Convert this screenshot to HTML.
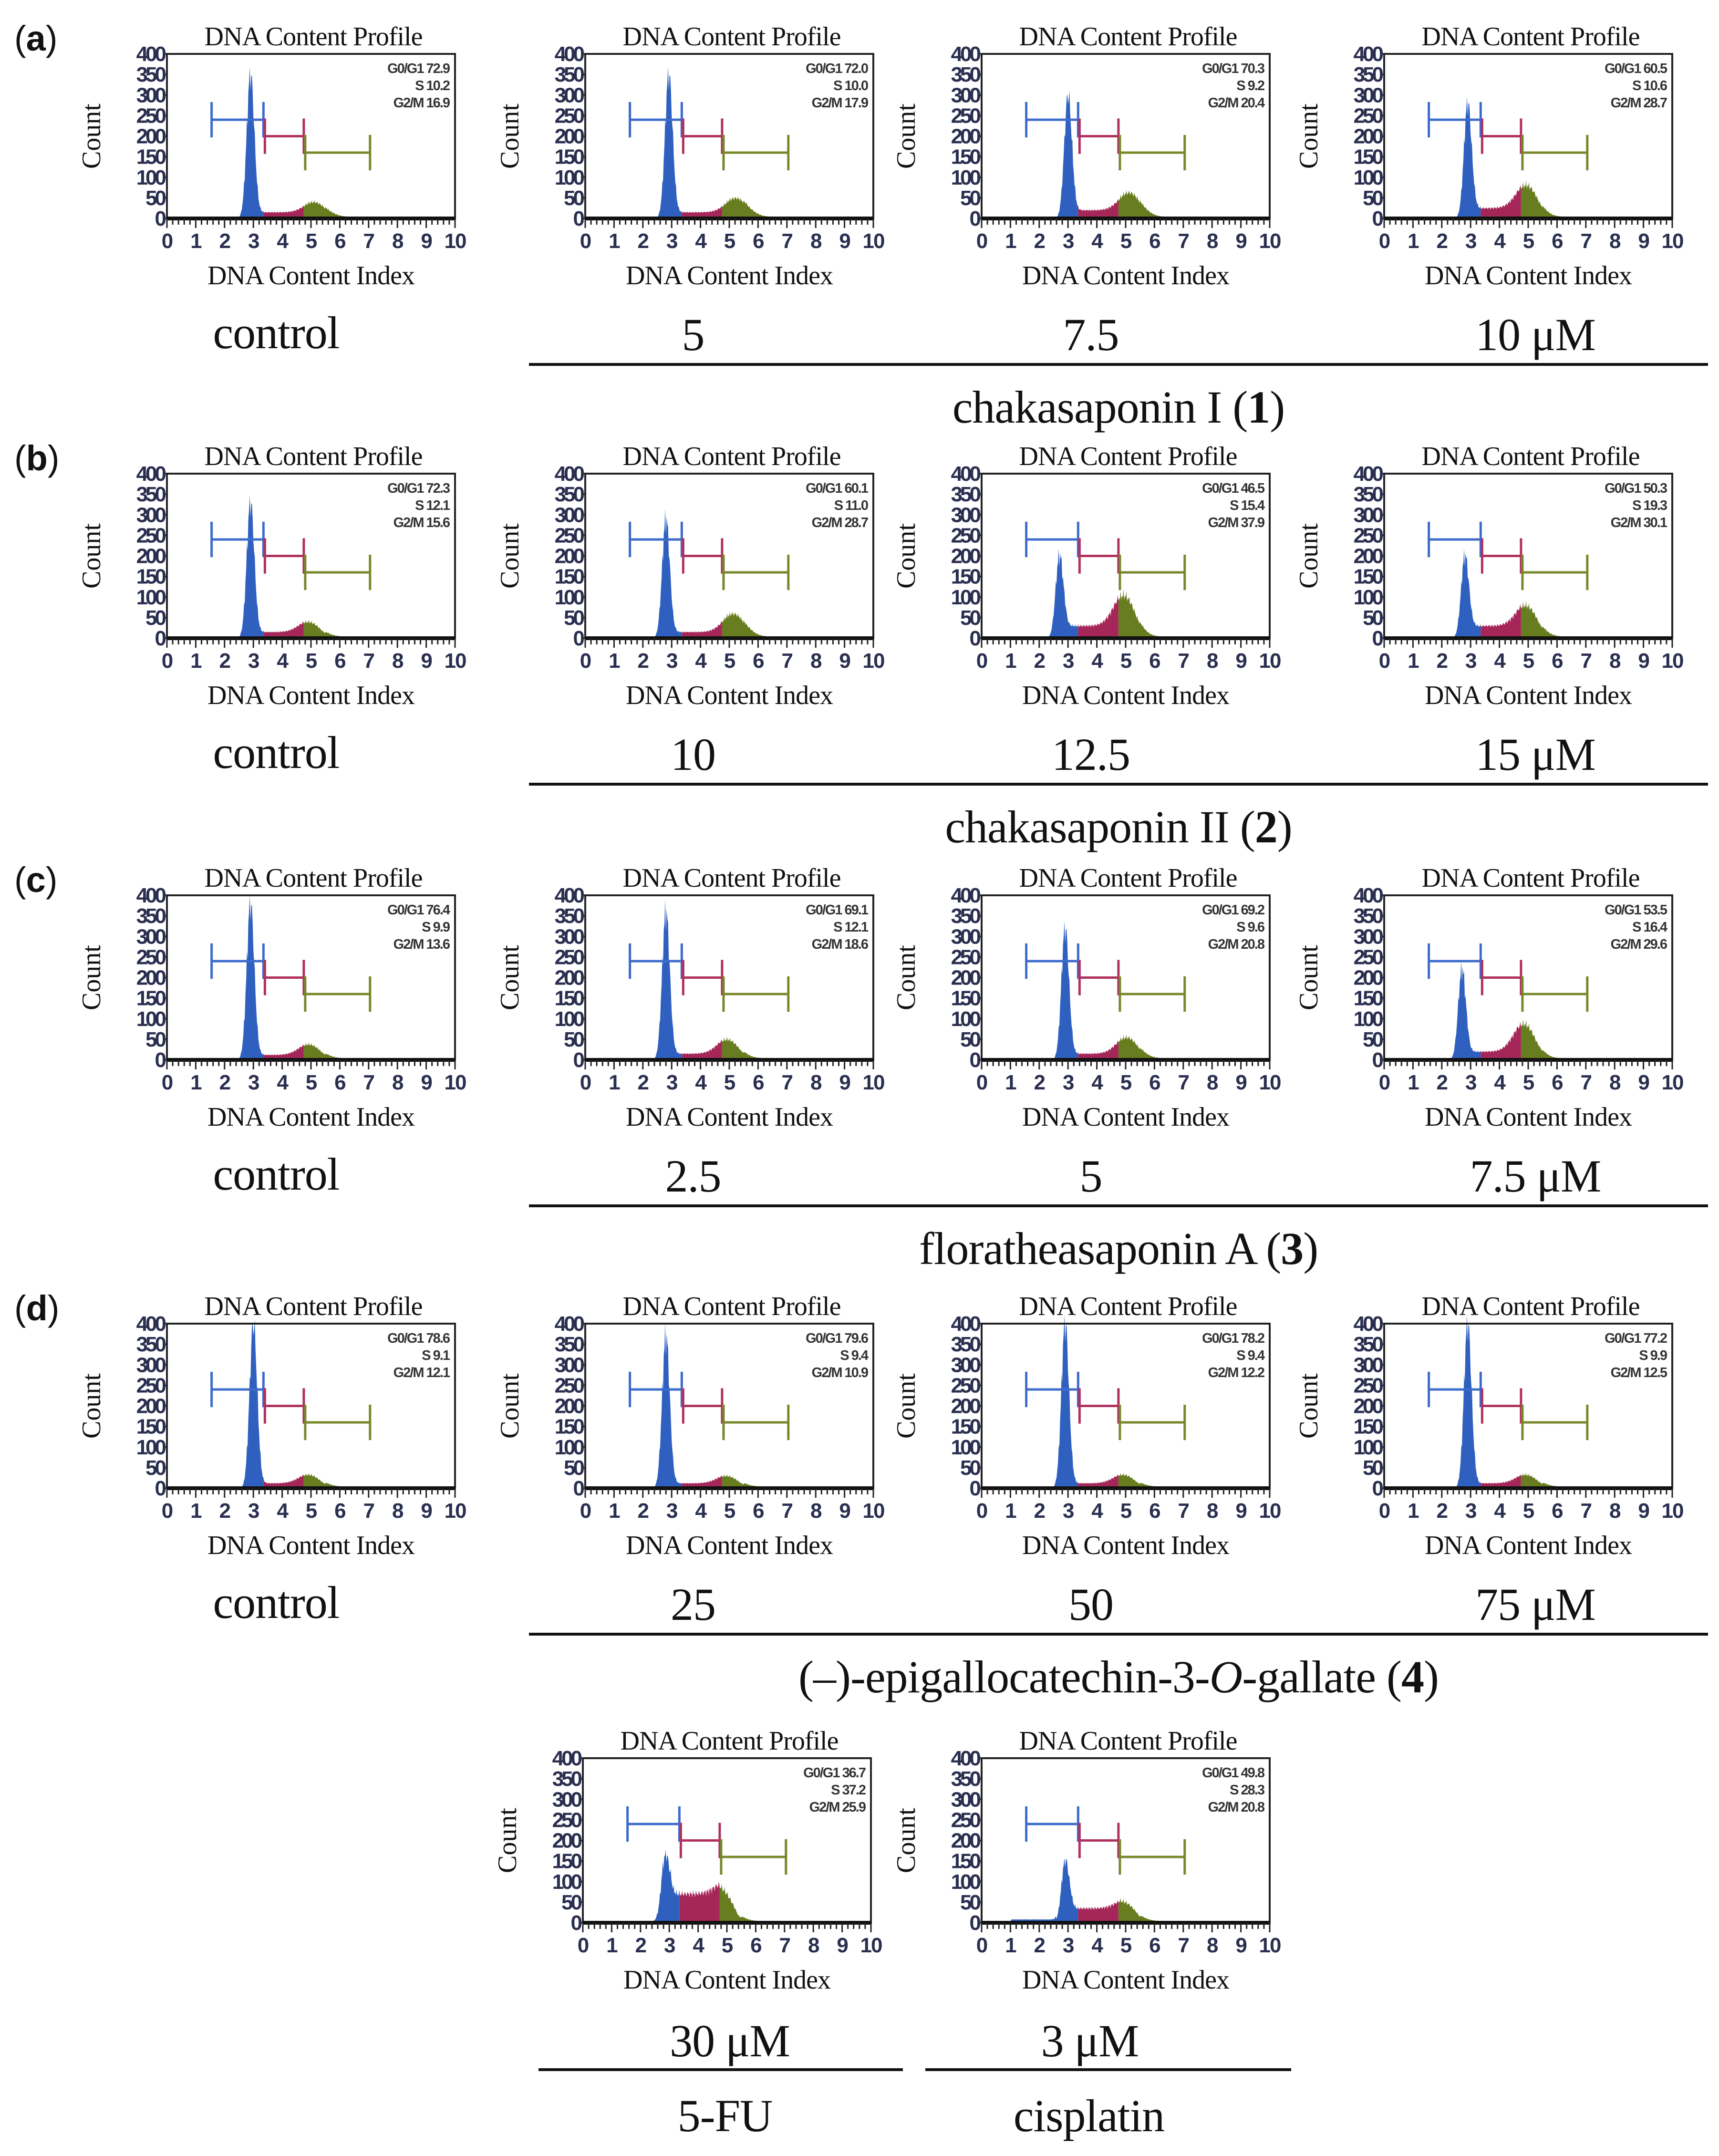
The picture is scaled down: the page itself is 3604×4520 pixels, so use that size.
<!DOCTYPE html>
<html><head><meta charset="utf-8">
<style>
html,body{margin:0;padding:0;background:#fff;}
svg{display:block;}
.serif{font-family:"Liberation Serif",serif;fill:#111;}
.sans{font-family:"Liberation Sans",sans-serif;}
</style></head>
<body>
<svg id="fig" xmlns="http://www.w3.org/2000/svg" width="3604" height="4520" viewBox="0 0 3604 4520">
<rect width="3604" height="4520" fill="#fff"/>
<g id="panels"></g>
<g id="labels"></g>
</svg>
<script>
// ---- data (per panel, row-major: a1..a4, b1..b4, c1..c4, d1..d4, e1, e2) ----
const panelG1 = [72.9,72.0,70.3,60.5, 72.3,60.1,46.5,50.3, 76.4,69.1,69.2,53.5, 78.6,79.6,78.2,77.2, 36.7,49.8];
const panelS  = [10.2,10.0,9.2,10.6, 12.1,11.0,15.4,19.3, 9.9,12.1,9.6,16.4, 9.1,9.4,9.4,9.9, 37.2,28.3];
const panelG2M= [16.9,17.9,20.4,28.7, 15.6,28.7,37.9,30.1, 13.6,18.6,20.8,29.6, 12.1,10.9,12.2,12.5, 25.9,20.8];
const g1PeakHeight = [350,350,300,280, 330,290,200,200, 380,360,320,220, 400,370,400,400, 160,150];
const g1PeakCenter = [2.9,2.9,3.0,2.9, 2.9,2.8,2.7,2.8, 2.9,2.8,2.9,2.7, 3.0,2.8,2.9,2.9, 2.85,2.9];
const sPhaseLevel  = [15,15,20,25, 15,15,30,30, 12,15,15,20, 12,12,12,12, 70,35];
const g2PeakHeight = [30,40,50,65, 30,50,85,60, 30,40,45,75, 25,22,25,25, 30,25];
const g2PeakCenter = [5.2,5.3,5.2,5.0, 5.0,5.2,5.0,5.0, 5.0,5.0,5.1,4.9, 5.0,5.0,5.0,5.0, 5.0,5.1];
const debrisLevel  = [0,0,0,0, 0,0,0,0, 0,0,0,0, 0,0,0,0, 3,8];
const yTicks = [0,50,100,150,200,250,300,350,400];
const xTicks = [0,1,2,3,4,5,6,7,8,9,10];
const gateStart = [1.55,3.4,4.8];
const gateEnd   = [3.35,4.75,7.05];
const gateLevel = [240,200,160];

const NS="http://www.w3.org/2000/svg";
function el(tag, attrs, parent, text){
  const e=document.createElementNS(NS,tag);
  for(const k in attrs) e.setAttribute(k,attrs[k]);
  if(text!==undefined) e.textContent=text;
  parent.appendChild(e); return e;
}
const colX=[350,1227,2058,2902];
const rowBase=[458,1338,2222,3120,4031];
const PW=604, PH=345;
const panelPos=[];
for(let r=0;r<4;r++) for(let c=0;c<4;c++) panelPos.push([colX[c],rowBase[r]]);
panelPos.push([1222,4031]); panelPos.push([2058,4031]);

const root=document.getElementById('panels');
const gateColors=['#3c6bcc','#b0305e','#76882a'];
const fillColors=['#2f60c0','#a5275a','#687d1f'];

panelPos.forEach((p,i)=>{
  const x0=p[0], yb=p[1];
  const X=v=>x0+v*PW/10;
  const Y=v=>yb-v*PH/400;
  const g=el('g',{},root);
  
  
  const t=el('text',{x:x0+PW/2+5,y:yb-PH-18,'text-anchor':'middle','font-size':56,class:'serif','letter-spacing':-1},g,'DNA Content Profile');
  
  
  // histogram
  const bins=[];
  for(let k=0;k<=260;k++){
    const x=0.5+k*0.025;
    let v=g1PeakHeight[i]*Math.exp(-0.5*Math.pow((x-g1PeakCenter[i])/0.13,2));
    const s0=g1PeakCenter[i]+0.2, s1=g2PeakCenter[i]-0.3;
    let sv=0;
    if(x>s0-0.2 && x<=s0) sv=(x-(s0-0.2))/0.2;
    else if(x>s0 && x<=s1) sv=1;
    else if(x>s1 && x<s1+0.7) sv=1-(x-s1)/0.7;
    v+=sPhaseLevel[i]*sv;
    v+=g2PeakHeight[i]*Math.exp(-0.5*Math.pow((x-g2PeakCenter[i])/0.38,2));
    if(x>5.5&&x<6.7) v+=4;
    if(x>1.0&&x<2.6) v+=debrisLevel[i];
    v*=1+0.15*Math.sin(k*2.3)*Math.sin(k*0.7);
    bins.push([x,Math.max(0,v)]);
  }
  [[0.5,3.35],[3.35,4.75],[4.75,7.1]].forEach((rg,j)=>{
    let d='M'+X(rg[0]).toFixed(1)+','+yb;
    bins.forEach(b=>{ if(b[0]>=rg[0]&&b[0]<=rg[1]) d+=' L'+X(b[0]).toFixed(1)+','+Y(b[1]).toFixed(1); });
    d+=' L'+X(rg[1]).toFixed(1)+','+yb+'Z';
    const a=el('path',{d:d,fill:fillColors[j]},g);
    
    
  });
  for(let j=0;j<3;j++){
    const gg=el('g',{stroke:gateColors[j],'stroke-width':5,fill:'none'},g);
    
    
    el('line',{x1:X(gateStart[j]),x2:X(gateEnd[j]),y1:Y(gateLevel[j]),y2:Y(gateLevel[j])},gg);
    el('line',{x1:X(gateStart[j]),x2:X(gateStart[j]),y1:Y(gateLevel[j]+43),y2:Y(gateLevel[j]-43)},gg);
    el('line',{x1:X(gateEnd[j]),x2:X(gateEnd[j]),y1:Y(gateLevel[j]+43),y2:Y(gateLevel[j]-43)},gg);
  }
  const bx=el('rect',{x:x0,y:yb-PH,width:PW,height:PH,fill:'none',stroke:'#222','stroke-width':4},g);
  
  
  el('line',{x1:x0,x2:x0+PW,y1:yb,y2:yb,stroke:'#111','stroke-width':8},g);
  const st=el('text',{'text-anchor':'end','font-size':29,'font-weight':'bold',class:'sans',fill:'#333','letter-spacing':-2},g);
  
  
  [['G0/G1 ',panelG1[i]],['S ',panelS[i]],['G2/M ',panelG2M[i]]].forEach((r,k)=>{
    el('tspan',{x:x0+PW-12,y:yb-PH+40+k*36},st,r[0]+r[1].toFixed(1));
  });
  yTicks.forEach(v=>{
    el('line',{x1:x0-8,x2:x0,y1:Y(v),y2:Y(v),stroke:'#222','stroke-width':3},g);
    const tl=el('text',{x:x0-6,y:Y(v)+15,'text-anchor':'end','font-size':44,'font-weight':'bold',class:'sans',fill:'#2a2f50','letter-spacing':-5},g,String(v));
    
    
  });
  for(let m=0;m<=50;m++){
    const v=m*0.2;
    el('line',{x1:X(v),x2:X(v),y1:yb,y2:yb+(m%5===0?20:13),stroke:'#222','stroke-width':3},g);
  }
  xTicks.forEach(v=>{
    const tl=el('text',{x:X(v),y:yb+62,'text-anchor':'middle','font-size':44,'font-weight':'bold',class:'sans',fill:'#2a2f50','letter-spacing':-2},g,String(v));
    
    
  });
  const xt=el('text',{x:x0+PW/2,y:yb+138,'text-anchor':'middle','font-size':56,class:'serif','letter-spacing':-1},g,'DNA Content Index');
  
  
  const yt=el('text',{x:0,y:0,'text-anchor':'middle','font-size':56,class:'serif',transform:'translate('+(x0-140)+','+(yb-PH/2)+') rotate(-90)'},g,'Count');
  
  
});

const L=document.getElementById('labels');
function txt(x,y,s,size,name,anchor){
  const t=el('text',{x:x,y:y,'text-anchor':anchor||'middle','font-size':size,class:'serif','letter-spacing':-1},L);
  t.innerHTML=s;
  
  
  return t;
}
const letters=['a','b','c','d'];
const concs=[['5','7.5','10 μM'],['10','12.5','15 μM'],['2.5','5','7.5 μM'],['25','50','75 μM']];
const names=['chakasaponin I (<tspan font-weight="bold">1</tspan>)',
 'chakasaponin II (<tspan font-weight="bold">2</tspan>)',
 'floratheasaponin A (<tspan font-weight="bold">3</tspan>)',
 '(–)-epigallocatechin-3-<tspan font-style="italic">O</tspan>-gallate (<tspan font-weight="bold">4</tspan>)'];
const concX=[1453,2287,3219];
for(let r=0;r<4;r++){
  const yb=rowBase[r];
  const pl=el('text',{x:30,y:yb-352,'font-size':74,class:'sans',fill:'#111'},L);
  pl.innerHTML='(<tspan font-weight="bold">'+letters[r]+'</tspan>)';
  
  
  txt(579,yb+272,'control',96,'control-label');
  concs[r].forEach((c,k)=>txt(concX[k],yb+276,c,96,'concentration-label'));
  const ln=el('line',{x1:1109,x2:3581,y1:yb+306,y2:yb+306,stroke:'#111','stroke-width':6},L);
  
  
  txt(2345,yb+428,names[r],96,'compound-name');
}
txt(1530,4311,'30 μM',96,'fu-concentration');
txt(2285,4311,'3 μM',96,'cisplatin-concentration');
[[1129,1893],[1940,2707]].forEach(s=>{
  const ln=el('line',{x1:s[0],x2:s[1],y1:4339,y2:4339,stroke:'#111','stroke-width':6},L);
  
  
});
txt(1520,4468,'5-FU',96,'fu-label');
txt(2283,4468,'cisplatin',96,'cisplatin-label');
</script>
</body></html>
